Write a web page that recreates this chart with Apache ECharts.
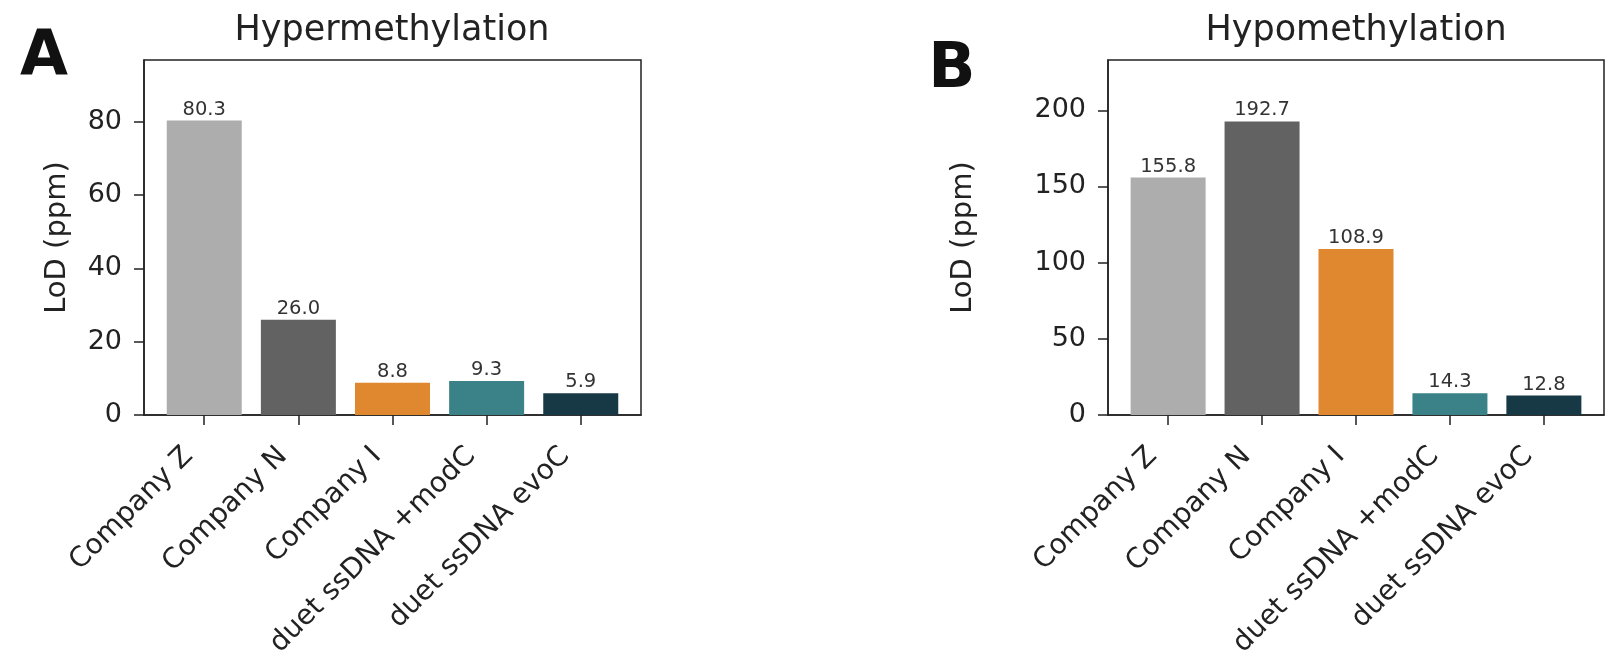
<!DOCTYPE html>
<html>
<head>
<meta charset="utf-8">
<script src="https://cdn.jsdelivr.net/npm/echarts@6/dist/echarts.min.js"></script>
<style>
  html, body { margin: 0; padding: 0; background: #fff; }
  #main { width: 1622px; height: 668px; }
</style>
</head>
<body>
<div id="main"></div>
<script>
var categories = ['Company Z', 'Company N', 'Company I', 'duet ssDNA +modC', 'duet ssDNA evoC'];
var hyperValues = [80.3, 26.0, 8.8, 9.3, 5.9];
var hypoValues = [155.8, 192.7, 108.9, 14.3, 12.8];
var hyperTicks = [0, 20, 40, 60, 80];
var hypoTicks = [0, 50, 100, 150, 200];
var barColors = ['#adadad', '#626262', '#e0882f', '#3a8287', '#163945'];

var font = 'DejaVu Sans';
var ink = '#222';

function makeData(values) {
    return values.map(function (v, i) {
        return { value: [i, v], itemStyle: { color: barColors[i] } };
    });
}

function xAxisFor(gridIndex) {
    return {
        type: 'value',
        gridIndex: gridIndex,
        min: -0.64,
        max: 4.64,
        splitLine: { show: false },
        axisLine: { show: true, onZero: false, lineStyle: { color: ink, width: 1.5 } },
        axisTick: {
            show: true, length: 10, lineStyle: { color: ink, width: 1.5 },
            customValues: [0, 1, 2, 3, 4]
        },
        axisLabel: {
            rotate: 45,
            margin: 41,
            verticalAlign: 'bottom',
            padding: [0, 8, 0, 0],
            fontSize: 28,
            fontFamily: font,
            color: ink,
            customValues: [0, 1, 2, 3, 4],
            formatter: function (v) { return categories[Math.round(v)]; }
        }
    };
}

function yAxisFor(gridIndex, max, ticks, gap) {
    return {
        type: 'value',
        gridIndex: gridIndex,
        min: 0,
        max: max,
        name: 'LoD (ppm)',
        nameLocation: 'middle',
        nameGap: gap,
        nameTextStyle: { fontSize: 29, fontFamily: font, color: ink },
        splitLine: { show: false },
        axisLine: { show: true, onZero: false, lineStyle: { color: ink, width: 1.5 } },
        axisTick: {
            show: true, length: 10, lineStyle: { color: ink, width: 1.5 },
            customValues: ticks
        },
        axisLabel: {
            margin: 22,
            fontSize: 27,
            fontFamily: font,
            color: ink,
            customValues: ticks
        }
    };
}

function barSeries(idx, values) {
    return {
        type: 'bar',
        xAxisIndex: idx,
        yAxisIndex: idx,
        barWidth: 75,
        data: makeData(values),
        label: {
            show: true,
            position: 'top',
            distance: 1,
            fontSize: 19.5,
            fontFamily: font,
            color: '#333',
            formatter: function (p) { return p.value[1].toFixed(1); }
        }
    };
}

var myChart = echarts.init(document.getElementById('main'));
var option = {
    backgroundColor: '#fff',
    animation: false,
    grid: [
        { left: 144, top: 60, width: 497, height: 355, show: true, borderColor: ink, borderWidth: 1.5 },
        { left: 1108, top: 60, width: 496, height: 355, show: true, borderColor: ink, borderWidth: 1.5 }
    ],
    xAxis: [xAxisFor(0), xAxisFor(1)],
    yAxis: [yAxisFor(0, 96.8, hyperTicks, 72), yAxisFor(1, 233, hypoTicks, 130)],
    series: [barSeries(0, hyperValues), barSeries(1, hypoValues)],
    graphic: [
        { type: 'text', x: 392, y: 31, style: { text: 'Hypermethylation', fontSize: 35, fontFamily: font, fill: ink, textAlign: 'center', textVerticalAlign: 'middle' } },
        { type: 'text', x: 1356, y: 31, style: { text: 'Hypomethylation', fontSize: 35, fontFamily: font, fill: ink, textAlign: 'center', textVerticalAlign: 'middle' } },
        { type: 'text', x: 44, y: 58, style: { text: 'A', fontSize: 62, fontWeight: 'bold', fontFamily: font, fill: '#111', textAlign: 'center', textVerticalAlign: 'middle' } },
        { type: 'text', x: 952, y: 71, style: { text: 'B', fontSize: 62, fontWeight: 'bold', fontFamily: font, fill: '#111', textAlign: 'center', textVerticalAlign: 'middle' } }
    ]
};
myChart.setOption(option);
</script>
</body>
</html>
